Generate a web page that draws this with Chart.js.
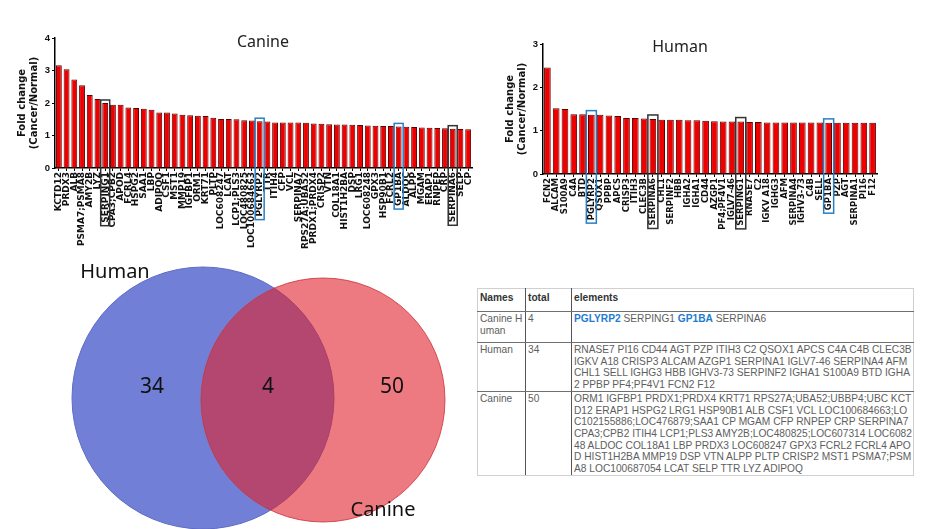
<!DOCTYPE html>
<html><head><meta charset="utf-8">
<script src="https://cdn.jsdelivr.net/npm/chart.js@4.4.0/dist/chart.umd.min.js"></script>
<style>
html,body{margin:0;padding:0;background:#fff;width:937px;height:529px;overflow:hidden;position:relative;font-family:'Liberation Sans',Arial,sans-serif}
canvas{position:absolute}
#canine{left:0;top:0}
#human{left:490px;top:0}
#venn{left:0;top:250px}
#tbl{position:absolute;left:477px;top:288px;width:436px;border-collapse:collapse;font-size:10.2px;line-height:11.7px;color:#5e5e5e;table-layout:fixed}
#tbl td,#tbl th{vertical-align:top;padding:1px 1px 0 2px;text-align:left;white-space:nowrap;overflow:visible}
#tbl th{font-weight:bold;color:#333;height:21px;border-top:1px solid #d0d0d0;line-height:15px}
#tbl tr td,#tbl tr th{border-bottom:1px solid #707070}
#tbl tr:last-child td{border-bottom:1px solid #d0d0d0}
#tbl .c1{border-left:1px solid #d0d0d0;border-right:1px solid #555;white-space:normal;word-break:break-all}
#tbl .c2{border-right:1px solid #555}
#tbl .c3{border-right:1px solid #d0d0d0}
#tbl .hl{color:#1f7bd0;font-weight:bold}
</style></head>
<body>
<canvas id="canine" width="480" height="250"></canvas>
<canvas id="human" width="447" height="250"></canvas>
<canvas id="venn" width="475" height="279"></canvas>
<table id="tbl"></table>
<script>
// ---------------- DATA ----------------
const canineLabels = ['KCTD12','PRDX3','ALB','PSMA7;PSMA8','AMY2B','LYZ','SERPING1','CPA3;CPB2','APOD','FCRL4','HSPG2','SAA1','LBP','ADIPOQ','CSF1','MST1','MMP19','IGFBP1','ORM1','KRT71','PLTP','LOC608247','LCAT','LCP1;PLS3','LOC480825','LOC100684663','PGLYRP2','TTR','ITIH4','CFP','VCL','SERPINA7','RPS27A;UBA52','PRDX1;PRDX4','CRISP2','VTN','COL18A1','HIST1H2BA','DSP','LRG1','LOC608248','GPX3','HSP90B1','FCRL2','GP1BA','ALDOC','ALPP','MGAM','ERAP1','RNPEP','CRP','SERPINA6','SELP','CP'];
const canineValues = [3.16,3.04,2.72,2.55,2.25,2.12,2.0,1.95,1.95,1.86,1.85,1.82,1.79,1.71,1.71,1.68,1.64,1.62,1.61,1.60,1.55,1.51,1.51,1.50,1.47,1.46,1.44,1.43,1.40,1.40,1.40,1.40,1.39,1.37,1.36,1.35,1.34,1.34,1.33,1.32,1.31,1.30,1.29,1.29,1.28,1.27,1.26,1.25,1.24,1.23,1.22,1.21,1.20,1.19];
const humanLabels = ['FCN2','ALCAM','S100A9','C4A','BTD','PGLYRP2','QSOX1','PPBP','APCS','CRISP3','ITIH3','CLEC3B','SERPINA6','CHL1','SERPINF2','HBB','IGHA2','IGHA1','CD44','AZGP1','PF4;PF4V1','IGLV7-46','SERPING1','RNASE7','C2','IGKV A18','IGHG3','AFM','SERPINA4','IGHV3-73','C4B','SELL','GP1BA','PZP','AGT','SERPINA1','PI16','F12'];
const humanValues = [2.46,1.52,1.50,1.38,1.38,1.37,1.37,1.35,1.34,1.29,1.29,1.28,1.27,1.25,1.25,1.25,1.24,1.24,1.23,1.22,1.21,1.21,1.21,1.20,1.20,1.19,1.19,1.19,1.19,1.19,1.19,1.19,1.18,1.18,1.18,1.18,1.18,1.18];
const yTicksCanine = [0,1,2,3,4];
const yTicksHuman = [0,1,2,3];
const sharedGenes = ['PGLYRP2','SERPING1','GP1BA','SERPINA6'];
const sharedBlue = ['PGLYRP2','GP1BA'];
const vennSets = ['Human','Canine'];
const vennCounts = [34,4,50]; // human only, both, canine only
const tableHeader = ['Names','total','elements'];
const tableNames = ['Canine Human','Human','Canine'];
const tableTotals = [4,34,50];
const tableLines = [
  [sharedGenes.join(' ')],
  ['RNASE7 PI16 CD44 AGT PZP ITIH3 C2 QSOX1 APCS C4A C4B CLEC3B',
   'IGKV A18 CRISP3 ALCAM AZGP1 SERPINA1 IGLV7-46 SERPINA4 AFM',
   'CHL1 SELL IGHG3 HBB IGHV3-73 SERPINF2 IGHA1 S100A9 BTD IGHA',
   '2 PPBP PF4;PF4V1 FCN2 F12'],
  ['ORM1 IGFBP1 PRDX1;PRDX4 KRT71 RPS27A;UBA52;UBBP4;UBC KCT',
   'D12 ERAP1 HSPG2 LRG1 HSP90B1 ALB CSF1 VCL LOC100684663;LO',
   'C102155886;LOC476879;SAA1 CP MGAM CFP RNPEP CRP SERPINA7',
   'CPA3;CPB2 ITIH4 LCP1;PLS3 AMY2B;LOC480825;LOC607314 LOC6082',
   '48 ALDOC COL18A1 LBP PRDX3 LOC608247 GPX3 FCRL2 FCRL4 APO',
   'D HIST1H2BA MMP19 DSP VTN ALPP PLTP CRISP2 MST1 PSMA7;PSM',
   'A8 LOC100687054 LCAT SELP TTR LYZ ADIPOQ']
];

// ---------------- LAYOUT / STYLE ----------------
const VENN_W = 475, VENN_H = 279, VENN_BW = 1;
const vennLayout = {
  Human: {cx: 203, cy: 148, r: 131, fill: 'rgb(113,128,214)', border: 'rgb(95,108,196)', label: {x: 115, y: 22}, count: {x: 152, y: 137}},
  Canine: {cx: 323, cy: 150, r: 122, fill: 'rgba(223,33,43,0.6)', border: 'rgba(205,50,60,0.8)', label: {x: 383, y: 260}, count: {x: 392, y: 137}},
  both: {x: 268, y: 137}
};

const titlePlugin = {
  id: 'panelTitle',
  afterDraw(chart, args, o) {
    const c = chart.ctx; c.save();
    c.font = o.font; c.fillStyle = '#222'; c.textAlign = 'center'; c.textBaseline = 'middle';
    c.fillText(o.text, o.x, o.y); c.restore();
  }
};
const boxPlugin = {
  id: 'hlBoxes',
  afterDraw(chart, args, o) {
    const {ctx, scales: {x, y}} = chart;
    const labels = chart.data.labels, vals = chart.data.datasets[0].data;
    const f = x.options.ticks.font;
    ctx.save();
    ctx.font = `${f.weight} ${f.size}px ${f.family}`;
    labels.forEach((lab, i) => {
      if (!sharedGenes.includes(lab)) return;
      const col = sharedBlue.includes(lab) ? '#2a7fc4' : '#333';
      const cx = x.getPixelForValue(i);
      const top = y.getPixelForValue(vals[i]) - o.above;
      const bottom = y.bottom + x.options.grid.tickLength + x.options.ticks.padding + ctx.measureText(lab).width + 3;
      ctx.strokeStyle = col; ctx.lineWidth = 1.5;
      ctx.strokeRect(cx - o.w / 2, top, o.w, bottom - top);
    });
    ctx.restore();
  }
};

function barChart(id, labels, values, yTicks, cfg) {
  return new Chart(document.getElementById(id), {
    type: 'bar',
    data: {labels, datasets: [{data: values, backgroundColor: '#ee0000', borderColor: '#5a0000', borderWidth: 1, categoryPercentage: 1, barPercentage: 0.76}]},
    options: {
      responsive: false, animation: false, devicePixelRatio: 1,
      layout: {padding: {left: 0, top: cfg.top, right: cfg.right, bottom: 0}},
      plugins: {legend: {display: false}, tooltip: {enabled: false},
        panelTitle: cfg.title, hlBoxes: {above: cfg.above, w: cfg.boxW}},
      scales: {
        x: {
          offset: true,
          grid: {display: true, drawOnChartArea: false, drawTicks: true, tickLength: 3, color: '#000', offset: false},
          border: {color: '#000', width: 1.5},
          ticks: {autoSkip: false, minRotation: 90, maxRotation: 90, padding: 1, color: '#111',
            font: {family: 'DejaVu Sans', size: cfg.xFont, weight: 'bold'}},
          afterFit: s => { s.height = cfg.xH; }
        },
        y: {
          min: 0, max: yTicks[yTicks.length - 1],
          afterBuildTicks: s => { s.ticks = yTicks.map(v => ({value: v})); },
          grid: {display: true, drawOnChartArea: false, drawTicks: true, tickLength: 3, color: '#000'},
          border: {color: '#000', width: 1.5},
          ticks: {padding: 2, color: '#111', font: {family: 'Liberation Sans', size: 9.5, weight: 'bold'}},
          title: {display: true, text: ['Fold change', '(Cancer/Normal)'], color: '#111',
            font: {family: 'DejaVu Sans', size: 10, weight: 'bold', lineHeight: 1.2}, padding: {top: cfg.titlePad, bottom: 0}},
          afterFit: s => { s.width = cfg.yW; }
        }
      }
    },
    plugins: [titlePlugin, boxPlugin]
  });
}

barChart('canine', canineLabels, canineValues, yTicksCanine, {
  top: 38, right: 4, xH: 82, yW: 55, xFont: 9, titlePad: 16, above: 3, boxW: 9,
  title: {text: 'Canine', x: 263, y: 42, font: '16px "Noto Sans"'}
});
barChart('human', humanLabels, humanValues, yTicksHuman, {
  top: 44, right: 60, xH: 76, yW: 53, xFont: 8.5, titlePad: 14, above: 4, boxW: 10,
  title: {text: 'Human', x: 190, y: 47, font: '16px "Noto Sans"'}
});

// ---------------- VENN ----------------
// bubble charts reserve room for the largest bubble; choose ranges so data units equal canvas pixels
const vennPad = Math.max(...vennSets.map(s => vennLayout[s].r)) + VENN_BW;
const vennText = {
  id: 'vennText',
  afterDatasetsDraw(chart) {
    const {ctx, scales: {x, y}} = chart;
    ctx.save(); ctx.fillStyle = '#111'; ctx.textAlign = 'center'; ctx.textBaseline = 'middle';
    ctx.font = '20px "Noto Sans"';
    vennSets.forEach(s => ctx.fillText(s, x.getPixelForValue(vennLayout[s].label.x), y.getPixelForValue(vennLayout[s].label.y)));
    ctx.font = '21px "Noto Sans"';
    const pos = [vennLayout.Human.count, vennLayout.both, vennLayout.Canine.count];
    vennCounts.forEach((c, i) => ctx.fillText(String(c), x.getPixelForValue(pos[i].x), y.getPixelForValue(pos[i].y)));
    ctx.restore();
  }
};
new Chart(document.getElementById('venn'), {
  type: 'bubble',
  data: {datasets: [{
    data: vennSets.map(s => ({x: vennLayout[s].cx, y: vennLayout[s].cy, r: vennLayout[s].r})),
    backgroundColor: vennSets.map(s => vennLayout[s].fill),
    borderColor: vennSets.map(s => vennLayout[s].border),
    borderWidth: VENN_BW, clip: false
  }]},
  options: {
    responsive: false, animation: false, devicePixelRatio: 1,
    layout: {padding: 0},
    plugins: {legend: {display: false}, tooltip: {enabled: false}},
    scales: {
      x: {type: 'linear', min: vennPad, max: VENN_W - vennPad, display: false},
      y: {type: 'linear', min: vennPad, max: VENN_H - vennPad, reverse: true, display: false}
    }
  },
  plugins: [vennText]
});

// ---------------- TABLE ----------------
(function () {
  const t = document.getElementById('tbl');
  const widths = [48, 46, 342];
  let h = '<colgroup>' + widths.map(w => `<col style="width:${w}px">`).join('') + '</colgroup>';
  h += '<tr>' + tableHeader.map((s, i) => `<th class="c${i + 1}">${s}</th>`).join('') + '</tr>';
  const heights = [31, 48, 83];
  tableNames.forEach((n, r) => {
    let el = tableLines[r].map(l => l.split(' ').map(w => sharedBlue.includes(w) ? `<span class="hl">${w}</span>` : w).join(' ')).join('<br>');
    h += `<tr style="height:${heights[r]}px"><td class="c1">${n}</td><td class="c2">${tableTotals[r]}</td><td class="c3">${el}</td></tr>`;
  });
  t.innerHTML = h;
})();
</script>
</body></html>
